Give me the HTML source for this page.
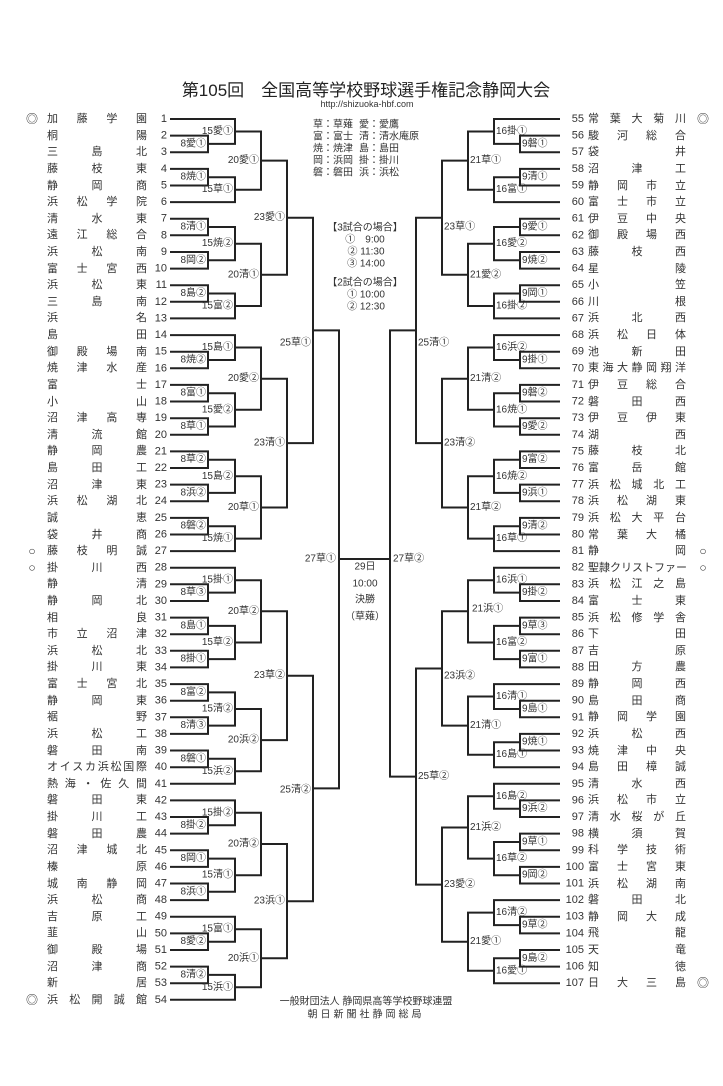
<!DOCTYPE html>
<html><head><meta charset="utf-8"><style>
html,body{margin:0;padding:0;background:#fff}
#w{position:relative;width:723px;height:1086px;overflow:hidden;font-family:"Liberation Sans","Noto Sans CJK JP",sans-serif;color:#333}
svg{position:absolute;left:0;top:0}
.n{position:absolute;height:16px;line-height:16px;font-size:11px;text-align:justify;text-align-last:justify;white-space:nowrap;overflow:visible}
.l{left:47px;width:100px}.r{left:588px;width:98px}
</style></head><body><div id="w">
<svg width="723" height="1086" viewBox="0 0 723 1086" font-family="Liberation Sans, Noto Sans CJK JP, sans-serif">
<g fill="none" stroke="#222" stroke-width="2">
<path d="M170 135.6H208V152.2H170M170 119H235V143.9H208M170 168.9H208V185.5H170M208 177.2H235V202.1H170M235 131.5H261V189.7H235M170 218.7H208V235.3H170M170 252H208V268.6H170M208 227H235V260.3H208M170 285.2H208V301.8H170M208 293.5H235V318.4H170M235 243.7H261V306H235M261 160.6H287V274.8H261"/>
<path d="M170 351.7H208V368.3H170M170 335.1H235V360H208M170 384.9H208V401.5H170M170 418.2H208V434.8H170M208 393.2H235V426.5H208M235 347.5H261V409.8H235M170 451.4H208V468H170M170 484.6H208V501.2H170M208 459.7H235V492.9H208M170 517.9H208V534.5H170M208 526.2H235V551.1H170M235 476.3H261V538.6H235M261 378.7H287V507.5H261M287 217.7H313V443.1H287"/>
<path d="M170 584.3H208V601H170M170 567.7H235V592.6H208M170 617.6H208V634.2H170M170 650.8H208V667.4H170M208 625.9H235V659.1H208M235 580.2H261V642.5H235M170 684.1H208V700.7H170M170 717.3H208V733.9H170M208 692.4H235V725.6H208M170 750.5H208V767.2H170M208 758.8H235V783.8H170M235 709H261V771.3H235M261 611.3H287V740.1H261"/>
<path d="M170 817H208V833.6H170M170 800.4H235V825.3H208M170 850.3H208V866.9H170M170 883.5H208V900.1H170M208 858.6H235V891.8H208M235 812.8H261V875.2H235M170 933.4H208V950H170M170 916.7H235V941.7H208M170 966.6H208V983.2H170M208 974.9H235V999.8H170M235 929.2H261V987.3H235M261 844H287V958.3H261M287 675.7H313V901.2H287M313 330.4H339V788.4H313"/>
<path d="M339 559H390"/>
<path d="M560 135.6H520V152.2H560M560 119H494V143.9H520M560 168.9H520V185.5H560M520 177.2H494V202.1H560M494 131.5H468V189.7H494M560 218.7H520V235.3H560M560 252H520V268.6H560M520 227H494V260.3H520M560 285.2H520V301.8H560M520 293.5H494V318.4H560M494 243.7H468V306H494M468 160.6H442V274.8H468"/>
<path d="M560 351.7H520V368.3H560M560 335.1H494V360H520M560 384.9H520V401.5H560M560 418.2H520V434.8H560M520 393.2H494V426.5H520M494 347.5H468V409.8H494M560 451.4H520V468H560M560 484.6H520V501.2H560M520 459.7H494V492.9H520M560 517.9H520V534.5H560M520 526.2H494V551.1H560M494 476.3H468V538.6H494M468 378.7H442V507.5H468M442 217.7H416V443.1H442"/>
<path d="M560 584.3H520V601H560M560 567.7H494V592.6H520M560 617.6H520V634.2H560M560 650.8H520V667.4H560M520 625.9H494V659.1H520M494 580.2H468V642.5H494M560 700.7H520V717.3H560M560 684.1H494V709H520M560 733.9H520V750.5H560M520 742.2H494V767.2H560M494 696.5H468V754.7H494M468 611.3H442V725.6H468"/>
<path d="M560 800.4H520V817H560M560 783.8H494V808.7H520M560 833.6H520V850.3H560M560 866.9H520V883.5H560M520 842H494V875.2H520M494 796.3H468V858.6H494M560 916.7H520V933.4H560M560 900.1H494V925.1H520M560 950H520V966.6H560M520 958.3H494V983.2H560M494 912.6H468V970.8H494M468 827.5H442V941.7H468M442 668.5H416V884.6H442M416 330.4H390V776.6H416"/>
</g>
<g font-size="10" fill="#333" dominant-baseline="central" text-anchor="end">
<text x="206" y="143.9">8愛①</text><text x="233" y="131.5">15愛①</text><text x="206" y="177.2">8焼①</text><text x="233" y="189.7">15草①</text><text x="259" y="160.6">20愛①</text>
<text x="206" y="227">8清①</text><text x="206" y="260.3">8岡②</text><text x="233" y="243.7">15焼②</text><text x="206" y="293.5">8島②</text><text x="233" y="306">15富②</text><text x="259" y="274.8">20清①</text><text x="285" y="217.7">23愛①</text>
<text x="206" y="360">8焼②</text><text x="233" y="347.5">15島①</text><text x="206" y="393.2">8富①</text><text x="206" y="426.5">8草①</text><text x="233" y="409.8">15愛②</text><text x="259" y="378.7">20愛②</text>
<text x="206" y="459.7">8草②</text><text x="206" y="492.9">8浜②</text><text x="233" y="476.3">15島②</text><text x="206" y="526.2">8磐②</text><text x="233" y="538.6">15焼①</text><text x="259" y="507.5">20草①</text><text x="285" y="443.1">23清①</text><text x="311" y="343">25草①</text>
<text x="206" y="592.6">8草③</text><text x="233" y="580.2">15掛①</text><text x="206" y="625.9">8島①</text><text x="206" y="659.1">8掛①</text><text x="233" y="642.5">15草②</text><text x="259" y="611.3">20草②</text>
<text x="206" y="692.4">8富②</text><text x="206" y="725.6">8清③</text><text x="233" y="709">15清②</text><text x="206" y="758.8">8磐①</text><text x="233" y="771.3">15浜②</text><text x="259" y="740.1">20浜②</text><text x="285" y="675.7">23草②</text>
<text x="206" y="825.3">8掛②</text><text x="233" y="812.8">15掛②</text><text x="206" y="858.6">8岡①</text><text x="206" y="891.8">8浜①</text><text x="233" y="875.2">15清①</text><text x="259" y="844">20清②</text>
<text x="206" y="941.7">8愛②</text><text x="233" y="929.2">15富①</text><text x="206" y="974.9">8清②</text><text x="233" y="987.3">15浜①</text><text x="259" y="958.3">20浜①</text><text x="285" y="901.2">23浜①</text><text x="311" y="790">25清②</text><text x="336" y="559">27草①</text>
</g>
<g font-size="10" fill="#333" dominant-baseline="central" text-anchor="start">
<text x="522" y="143.9">9磐①</text><text x="496" y="131.5">16掛①</text><text x="522" y="177.2">9清①</text><text x="496" y="189.7">16富①</text><text x="470" y="160.6">21草①</text>
<text x="522" y="227">9愛①</text><text x="522" y="260.3">9焼②</text><text x="496" y="243.7">16愛②</text><text x="522" y="293.5">9岡①</text><text x="496" y="306">16掛②</text><text x="470" y="274.8">21愛②</text><text x="444" y="227">23草①</text>
<text x="522" y="360">9掛①</text><text x="496" y="347.5">16浜②</text><text x="522" y="393.2">9磐②</text><text x="522" y="426.5">9愛②</text><text x="496" y="409.8">16焼①</text><text x="470" y="378.7">21清②</text>
<text x="522" y="459.7">9富②</text><text x="522" y="492.9">9浜①</text><text x="496" y="476.3">16焼②</text><text x="522" y="526.2">9清②</text><text x="496" y="538.6">16草①</text><text x="470" y="507.5">21草②</text><text x="444" y="443.1">23清②</text><text x="418" y="343">25清①</text>
<text x="522" y="592.6">9掛②</text><text x="496" y="580.2">16浜①</text><text x="522" y="625.9">9草③</text><text x="522" y="659.1">9富①</text><text x="496" y="642.5">16富②</text><text x="472" y="609">21浜①</text>
<text x="522" y="709">9島①</text><text x="496" y="696.5">16清①</text><text x="522" y="742.2">9焼①</text><text x="496" y="754.7">16島①</text><text x="470" y="725.6">21清①</text><text x="444" y="676">23浜②</text>
<text x="522" y="808.7">9浜②</text><text x="496" y="796.3">16島②</text><text x="522" y="842">9草①</text><text x="522" y="875.2">9岡②</text><text x="496" y="858.6">16草②</text><text x="470" y="827.5">21浜②</text>
<text x="522" y="925.1">9草②</text><text x="496" y="912.6">16清②</text><text x="522" y="958.3">9島②</text><text x="496" y="970.8">16愛①</text><text x="470" y="941.7">21愛①</text><text x="444" y="884.6">23愛②</text><text x="418" y="776.6">25草②</text><text x="393" y="559">27草②</text>
</g>
<g font-size="11" fill="#333" dominant-baseline="central" text-anchor="end">
<text x="167" y="119">1</text><text x="167" y="135.6">2</text><text x="167" y="152.2">3</text><text x="167" y="168.9">4</text><text x="167" y="185.5">5</text><text x="167" y="202.1">6</text><text x="167" y="218.7">7</text><text x="167" y="235.3">8</text><text x="167" y="252">9</text><text x="167" y="268.6">10</text><text x="167" y="285.2">11</text><text x="167" y="301.8">12</text><text x="167" y="318.4">13</text><text x="167" y="335.1">14</text><text x="167" y="351.7">15</text><text x="167" y="368.3">16</text><text x="167" y="384.9">17</text><text x="167" y="401.5">18</text><text x="167" y="418.2">19</text><text x="167" y="434.8">20</text><text x="167" y="451.4">21</text><text x="167" y="468">22</text><text x="167" y="484.6">23</text><text x="167" y="501.2">24</text><text x="167" y="517.9">25</text><text x="167" y="534.5">26</text><text x="167" y="551.1">27</text><text x="167" y="567.7">28</text><text x="167" y="584.3">29</text><text x="167" y="601">30</text><text x="167" y="617.6">31</text><text x="167" y="634.2">32</text><text x="167" y="650.8">33</text><text x="167" y="667.4">34</text><text x="167" y="684.1">35</text><text x="167" y="700.7">36</text><text x="167" y="717.3">37</text><text x="167" y="733.9">38</text><text x="167" y="750.5">39</text><text x="167" y="767.2">40</text><text x="167" y="783.8">41</text><text x="167" y="800.4">42</text><text x="167" y="817">43</text><text x="167" y="833.6">44</text><text x="167" y="850.3">45</text><text x="167" y="866.9">46</text><text x="167" y="883.5">47</text><text x="167" y="900.1">48</text><text x="167" y="916.7">49</text><text x="167" y="933.4">50</text><text x="167" y="950">51</text><text x="167" y="966.6">52</text><text x="167" y="983.2">53</text><text x="167" y="999.8">54</text>
<text x="584" y="119">55</text><text x="584" y="135.6">56</text><text x="584" y="152.2">57</text><text x="584" y="168.9">58</text><text x="584" y="185.5">59</text><text x="584" y="202.1">60</text><text x="584" y="218.7">61</text><text x="584" y="235.3">62</text><text x="584" y="252">63</text><text x="584" y="268.6">64</text><text x="584" y="285.2">65</text><text x="584" y="301.8">66</text><text x="584" y="318.4">67</text><text x="584" y="335.1">68</text><text x="584" y="351.7">69</text><text x="584" y="368.3">70</text><text x="584" y="384.9">71</text><text x="584" y="401.5">72</text><text x="584" y="418.2">73</text><text x="584" y="434.8">74</text><text x="584" y="451.4">75</text><text x="584" y="468">76</text><text x="584" y="484.6">77</text><text x="584" y="501.2">78</text><text x="584" y="517.9">79</text><text x="584" y="534.5">80</text><text x="584" y="551.1">81</text><text x="584" y="567.7">82</text><text x="584" y="584.3">83</text><text x="584" y="601">84</text><text x="584" y="617.6">85</text><text x="584" y="634.2">86</text><text x="584" y="650.8">87</text><text x="584" y="667.4">88</text><text x="584" y="684.1">89</text><text x="584" y="700.7">90</text><text x="584" y="717.3">91</text><text x="584" y="733.9">92</text><text x="584" y="750.5">93</text><text x="584" y="767.2">94</text><text x="584" y="783.8">95</text><text x="584" y="800.4">96</text><text x="584" y="817">97</text><text x="584" y="833.6">98</text><text x="584" y="850.3">99</text><text x="584" y="866.9">100</text><text x="584" y="883.5">101</text><text x="584" y="900.1">102</text><text x="584" y="916.7">103</text><text x="584" y="933.4">104</text><text x="584" y="950">105</text><text x="584" y="966.6">106</text><text x="584" y="983.2">107</text>
</g>
<g font-size="12" fill="#333" dominant-baseline="central" text-anchor="middle">
<text x="32" y="119">◎</text><text x="32" y="551.1">○</text><text x="32" y="567.7">○</text><text x="32" y="999.8">◎</text>
<text x="703" y="119">◎</text><text x="703" y="551.1">○</text><text x="703" y="567.7">○</text><text x="703" y="983.2">◎</text>
</g>
<text x="366" y="96" font-size="17" fill="#222" text-anchor="middle">第105回　全国高等学校野球選手権記念静岡大会</text>
<text x="367" y="107" font-size="9" fill="#333" text-anchor="middle">http://shizuoka-hbf.com</text>
<g font-size="10" fill="#333" dominant-baseline="central">
<text x="313" y="125">草：草薙</text><text x="359" y="125">愛：愛鷹</text>
<text x="313" y="137">富：富士</text><text x="359" y="137">清：清水庵原</text>
<text x="313" y="149">焼：焼津</text><text x="359" y="149">島：島田</text>
<text x="313" y="161">岡：浜岡</text><text x="359" y="161">掛：掛川</text>
<text x="313" y="173">磐：磐田</text><text x="359" y="173">浜：浜松</text>
</g>
<g font-size="10" fill="#333" dominant-baseline="central" text-anchor="middle">
<text x="365" y="228">【3試合の場合】</text>
<text x="365" y="240">①　9:00</text><text x="366" y="252">② 11:30</text><text x="366" y="264">③ 14:00</text>
<text x="365" y="283">【2試合の場合】</text>
<text x="366" y="295">① 10:00</text><text x="366" y="307">② 12:30</text>
<text x="365" y="567">29日</text><text x="365" y="584">10:00</text><text x="365" y="600">決勝</text><text x="365" y="617">（草薙）</text>
<text x="366" y="1002">一般財団法人 静岡県高等学校野球連盟</text>
<text x="366" y="1015" letter-spacing="3">朝日新聞社静岡総局</text>
</g>
</svg>
<div class="n l" style="top:111px">加藤学園</div><div class="n l" style="top:127.6px">桐陽</div><div class="n l" style="top:144.2px">三島北</div><div class="n l" style="top:160.9px">藤枝東</div><div class="n l" style="top:177.5px">静岡商</div><div class="n l" style="top:194.1px">浜松学院</div><div class="n l" style="top:210.7px">清水東</div><div class="n l" style="top:227.3px">遠江総合</div><div class="n l" style="top:244px">浜松南</div><div class="n l" style="top:260.6px">富士宮西</div><div class="n l" style="top:277.2px">浜松東</div><div class="n l" style="top:293.8px">三島南</div><div class="n l" style="top:310.4px">浜名</div><div class="n l" style="top:327.1px">島田</div><div class="n l" style="top:343.7px">御殿場南</div><div class="n l" style="top:360.3px">焼津水産</div><div class="n l" style="top:376.9px">富士</div><div class="n l" style="top:393.5px">小山</div><div class="n l" style="top:410.2px">沼津高専</div><div class="n l" style="top:426.8px">清流館</div><div class="n l" style="top:443.4px">静岡農</div><div class="n l" style="top:460px">島田工</div><div class="n l" style="top:476.6px">沼津東</div><div class="n l" style="top:493.2px">浜松湖北</div><div class="n l" style="top:509.9px">誠恵</div><div class="n l" style="top:526.5px">袋井商</div><div class="n l" style="top:543.1px">藤枝明誠</div><div class="n l" style="top:559.7px">掛川西</div><div class="n l" style="top:576.3px">静清</div><div class="n l" style="top:593px">静岡北</div><div class="n l" style="top:609.6px">相良</div><div class="n l" style="top:626.2px">市立沼津</div><div class="n l" style="top:642.8px">浜松北</div><div class="n l" style="top:659.4px">掛川東</div><div class="n l" style="top:676.1px">富士宮北</div><div class="n l" style="top:692.7px">静岡東</div><div class="n l" style="top:709.3px">裾野</div><div class="n l" style="top:725.9px">浜松工</div><div class="n l" style="top:742.5px">磐田南</div><div class="n l" style="top:759.2px">オイスカ浜松国際</div><div class="n l" style="top:775.8px">熱海・佐久間</div><div class="n l" style="top:792.4px">磐田東</div><div class="n l" style="top:809px">掛川工</div><div class="n l" style="top:825.6px">磐田農</div><div class="n l" style="top:842.3px">沼津城北</div><div class="n l" style="top:858.9px">榛原</div><div class="n l" style="top:875.5px">城南静岡</div><div class="n l" style="top:892.1px">浜松商</div><div class="n l" style="top:908.7px">吉原工</div><div class="n l" style="top:925.4px">韮山</div><div class="n l" style="top:942px">御殿場</div><div class="n l" style="top:958.6px">沼津商</div><div class="n l" style="top:975.2px">新居</div><div class="n l" style="top:991.8px">浜松開誠館</div>
<div class="n r" style="top:111px">常葉大菊川</div><div class="n r" style="top:127.6px">駿河総合</div><div class="n r" style="top:144.2px">袋井</div><div class="n r" style="top:160.9px">沼津工</div><div class="n r" style="top:177.5px">静岡市立</div><div class="n r" style="top:194.1px">富士市立</div><div class="n r" style="top:210.7px">伊豆中央</div><div class="n r" style="top:227.3px">御殿場西</div><div class="n r" style="top:244px">藤枝西</div><div class="n r" style="top:260.6px">星陵</div><div class="n r" style="top:277.2px">小笠</div><div class="n r" style="top:293.8px">川根</div><div class="n r" style="top:310.4px">浜北西</div><div class="n r" style="top:327.1px">浜松日体</div><div class="n r" style="top:343.7px">池新田</div><div class="n r" style="top:360.3px">東海大静岡翔洋</div><div class="n r" style="top:376.9px">伊豆総合</div><div class="n r" style="top:393.5px">磐田西</div><div class="n r" style="top:410.2px">伊豆伊東</div><div class="n r" style="top:426.8px">湖西</div><div class="n r" style="top:443.4px">藤枝北</div><div class="n r" style="top:460px">富岳館</div><div class="n r" style="top:476.6px">浜松城北工</div><div class="n r" style="top:493.2px">浜松湖東</div><div class="n r" style="top:509.9px">浜松大平台</div><div class="n r" style="top:526.5px">常葉大橘</div><div class="n r" style="top:543.1px">静岡</div><div class="n r" style="top:559.7px">聖隷クリストファー</div><div class="n r" style="top:576.3px">浜松江之島</div><div class="n r" style="top:593px">富士東</div><div class="n r" style="top:609.6px">浜松修学舎</div><div class="n r" style="top:626.2px">下田</div><div class="n r" style="top:642.8px">吉原</div><div class="n r" style="top:659.4px">田方農</div><div class="n r" style="top:676.1px">静岡西</div><div class="n r" style="top:692.7px">島田商</div><div class="n r" style="top:709.3px">静岡学園</div><div class="n r" style="top:725.9px">浜松西</div><div class="n r" style="top:742.5px">焼津中央</div><div class="n r" style="top:759.2px">島田樟誠</div><div class="n r" style="top:775.8px">清水西</div><div class="n r" style="top:792.4px">浜松市立</div><div class="n r" style="top:809px">清水桜が丘</div><div class="n r" style="top:825.6px">横須賀</div><div class="n r" style="top:842.3px">科学技術</div><div class="n r" style="top:858.9px">富士宮東</div><div class="n r" style="top:875.5px">浜松湖南</div><div class="n r" style="top:892.1px">磐田北</div><div class="n r" style="top:908.7px">静岡大成</div><div class="n r" style="top:925.4px">飛龍</div><div class="n r" style="top:942px">天竜</div><div class="n r" style="top:958.6px">知徳</div><div class="n r" style="top:975.2px">日大三島</div>
</div></body></html>
